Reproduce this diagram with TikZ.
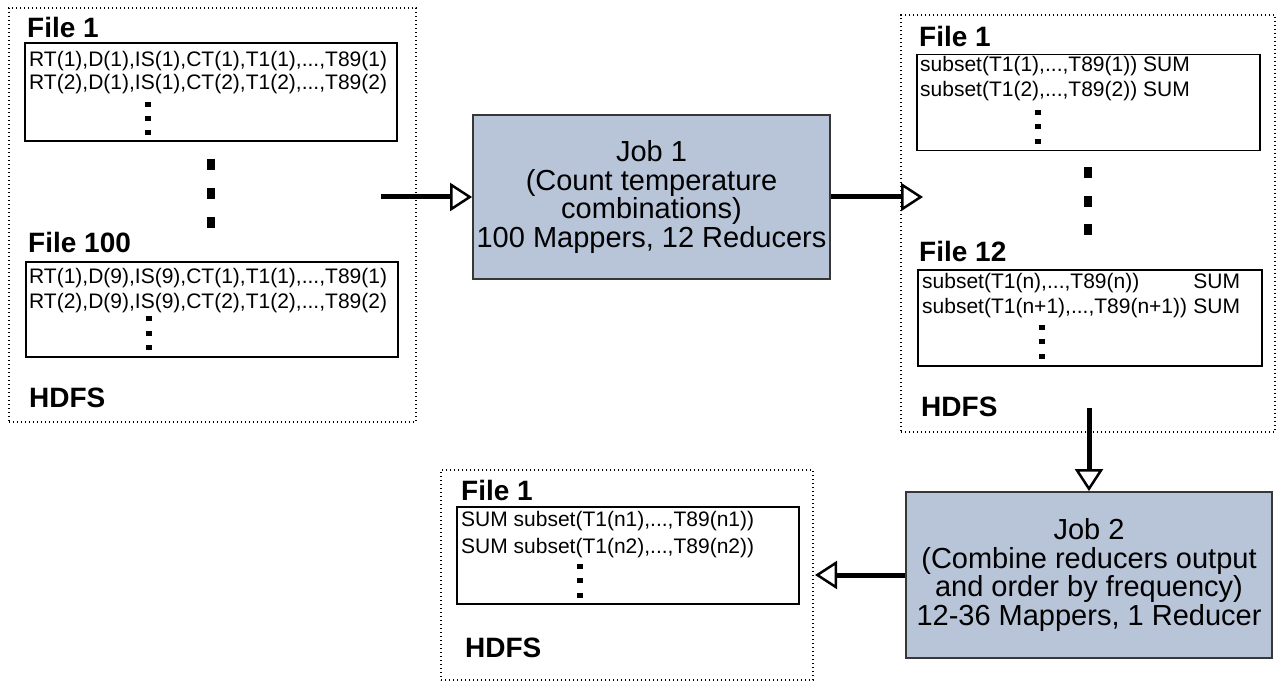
\documentclass[tikz,border=0pt]{standalone}
\usepackage{fontspec}
\setmainfont{Liberation Sans}
\usetikzlibrary{arrows.meta}
\definecolor{jobfill}{RGB}{184,196,216}
\definecolor{jobline}{RGB}{55,55,55}
\tikzset{
  container/.style={draw, line width=1.4pt, dash pattern=on 1.4pt off 2.6pt, inner sep=0pt},
  filebox/.style={draw, line width=1.8pt, inner sep=0pt},
  row/.style={anchor=base west, inner sep=0pt, font=\fontsize{21}{23}\selectfont},
  hdr/.style={anchor=base west, inner sep=0pt, font=\bfseries\fontsize{28}{30}\selectfont},
  sdot/.style={fill, inner sep=0pt, minimum width=6pt, minimum height=5pt},
  bdot/.style={fill, inner sep=0pt, minimum width=8pt, minimum height=11pt},
  job/.style={draw=jobline, fill=jobfill, line width=1.8pt, align=center, inner sep=0pt,
    font=\fontsize{29}{28.6}\selectfont},
  flow/.style={line width=5pt, -{Triangle[open, length=22pt, width=28pt, line width=2.5pt]}}
}
\begin{document}
\begin{tikzpicture}[x=1pt,y=-1pt]
\useasboundingbox (0,0) rectangle (1277,684);

% containers
\node[container, minimum width=407pt, minimum height=414pt] (hdfsA) at (212.5,215) {};
\node[container, minimum width=374pt, minimum height=417pt] (hdfsB) at (1088,223.5) {};
\node[container, minimum width=372pt, minimum height=210pt] (hdfsC) at (627,575) {};

% left container
\node[hdr] (fa1) at (27,38) {File 1};
\node[filebox, minimum width=372pt, minimum height=98pt] (boxa1) at (211,92) {};
\node[row] (ra11) at (29,67) {RT(1),D(1),IS(1),CT(1),T1(1),...,T89(1)};
\node[row] (ra12) at (29,90) {RT(2),D(1),IS(1),CT(2),T1(2),...,T89(2)};
\node[sdot] (da11) at (148,105) {};
\node[sdot] (da12) at (148,119) {};
\node[sdot] (da13) at (148,133) {};
\node[bdot] (ba1) at (211,165) {};
\node[bdot] (ba2) at (211,194) {};
\node[bdot] (ba3) at (211,223) {};
\node[hdr] (fa2) at (28,253) {File 100};
\node[filebox, minimum width=372pt, minimum height=95pt] (boxa2) at (212,309.5) {};
\node[row] (ra21) at (29,284) {RT(1),D(9),IS(9),CT(1),T1(1),...,T89(1)};
\node[row] (ra22) at (29,309) {RT(2),D(9),IS(9),CT(2),T1(2),...,T89(2)};
\node[sdot] (da21) at (149,319) {};
\node[sdot] (da22) at (149,334) {};
\node[sdot] (da23) at (149,348) {};
\node[hdr] (ha) at (29,407) {HDFS};

% right container
\node[hdr] (fb1) at (919,47) {File 1};
\node[filebox, minimum width=343pt, minimum height=96pt] (boxb1) at (1088.5,102.5) {};
\node[row] (rb11) at (920,72) {subset(T1(1),...,T89(1)) SUM};
\node[row] (rb12) at (920,97) {subset(T1(2),...,T89(2)) SUM};
\node[sdot] (db11) at (1038,113) {};
\node[sdot] (db12) at (1038,127) {};
\node[sdot] (db13) at (1038,142) {};
\node[bdot] (bb1) at (1088,173) {};
\node[bdot] (bb2) at (1088,202) {};
\node[bdot] (bb3) at (1088,230) {};
\node[hdr] (fb2) at (919,262) {File 12};
\node[filebox, minimum width=344pt, minimum height=96pt] (boxb2) at (1090,318) {};
\node[row] (rb21) at (922,289) {subset(T1(n),...,T89(n))};
\node[row] (rb22) at (922,314) {subset(T1(n+1),...,T89(n+1))};
\node[row, xshift=5.8pt] (sb22) at (rb22.base east) {SUM};
\node[row] (sb21) at (sb22.base west |- rb21.base) {SUM};
\node[sdot] (db21) at (1042,328) {};
\node[sdot] (db22) at (1042,342) {};
\node[sdot] (db23) at (1042,357) {};
\node[hdr] (hb) at (921,417) {HDFS};

% bottom container
\node[hdr] (fc1) at (461,500) {File 1};
\node[filebox, minimum width=342pt, minimum height=97pt] (boxc1) at (628,555.5) {};
\node[row] (rc11) at (461,526) {SUM subset(T1(n1),...,T89(n1))};
\node[row] (rc12) at (461,553) {SUM subset(T1(n2),...,T89(n2))};
\node[sdot] (dc11) at (580,566) {};
\node[sdot] (dc12) at (580,580) {};
\node[sdot] (dc13) at (580,595) {};
\node[hdr] (hc) at (465,657) {HDFS};

% jobs
\node[job, minimum width=357pt, minimum height=164pt] (job1) at (651.5,197)
  {Job 1\\(Count temperature\\combinations)\\100 Mappers, 12 Reducers};
\node[job, minimum width=366pt, minimum height=166pt] (job2) at (1089,575)
  {Job 2\\(Combine reducers output\\and order by frequency)\\12-36 Mappers, 1 Reducer};

% connectors
\coordinate (a1s) at (381,197);
\coordinate (a2e) at (923,197);
\coordinate (a3s) at (1089,408);
\coordinate (a4e) at (815,575);
\draw[flow] (a1s) -- (job1.west);
\draw[flow] (job1.east) -- (a2e);
\draw[flow] (a3s) -- (job2.north);
\draw[flow] (job2.west) -- (a4e);
\end{tikzpicture}
\end{document}
